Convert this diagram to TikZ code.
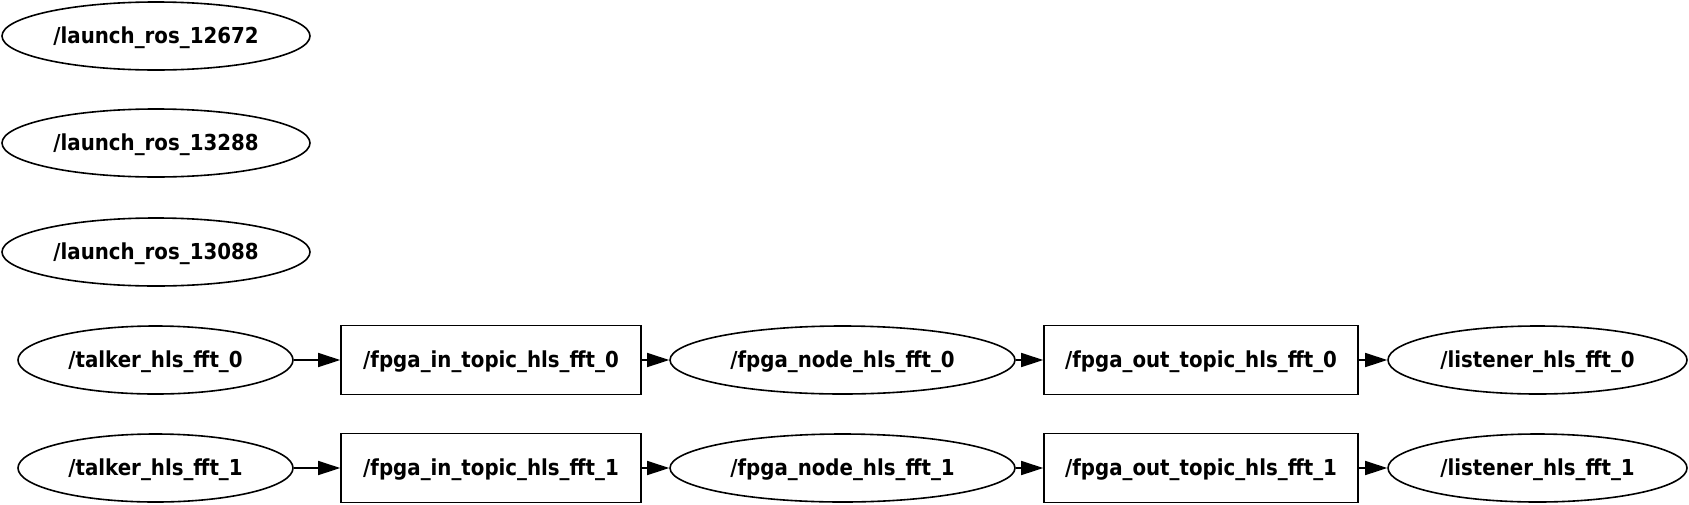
\documentclass[tikz,border=0pt]{standalone}
\usepackage{fontspec}
\setmainfont{DejaVu Sans Condensed}
\usetikzlibrary{shapes.geometric,arrows.meta}

\begin{document}
\begin{tikzpicture}[x=0.5pt,y=-0.5pt,
  rosnode/.style={draw, ellipse, line width=0.8pt, inner sep=0pt, minimum height=34pt, text height=8pt, text depth=1pt, font=\bfseries\fontsize{11}{13}\selectfont},
  rostopic/.style={draw, rectangle, line width=0.8pt, inner sep=0pt, minimum height=34.5pt, text height=8pt, text depth=1pt, font=\bfseries\fontsize{11}{13}\selectfont},
  pub/.style={-{Triangle[length=11pt,width=7pt]}, line width=0.8pt}]
\useasboundingbox (0,0) rectangle (1689,504);

% Launch nodes
\foreach \n/\y in {12672/36,13288/143,13088/252}
  \node[rosnode, minimum width=154pt] (launch\n) at (156,\y) {/launch\_ros\_\n};

% FFT pipelines
\foreach \i/\y in {0/360,1/468} {
  \node[rosnode, minimum width=137.5pt] (talker\i) at (155.5,\y) {/talker\_hls\_fft\_\i};
  \node[rostopic, minimum width=150pt] (intopic\i) at (491,\y) {/fpga\_in\_topic\_hls\_fft\_\i};
  \node[rosnode, minimum width=172.5pt] (fpga\i) at (842.5,\y) {/fpga\_node\_hls\_fft\_\i};
  \node[rostopic, minimum width=157pt] (outtopic\i) at (1201,\y) {/fpga\_out\_topic\_hls\_fft\_\i};
  \node[rosnode, minimum width=149.5pt] (listener\i) at (1537.5,\y) {/listener\_hls\_fft\_\i};

  % Arrows
  \draw[pub] (talker\i) -- (intopic\i);
  \draw[pub] (intopic\i) -- (fpga\i);
  \draw[pub] (fpga\i) -- (outtopic\i);
  \draw[pub] (outtopic\i) -- (listener\i);
}
\end{tikzpicture}
\end{document}
